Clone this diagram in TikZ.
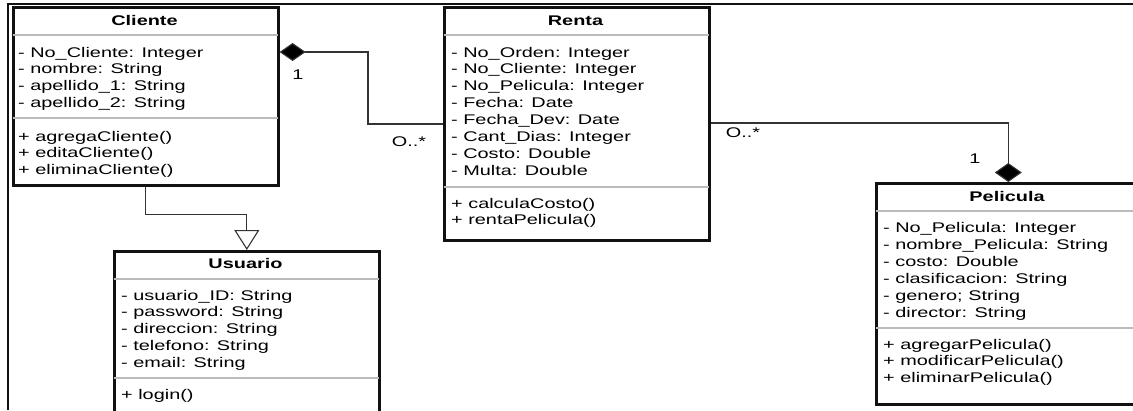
\documentclass[tikz,border=0pt]{standalone}
\usepackage{fontspec}
\setmainfont{Liberation Sans}[FakeStretch=1.42]
\usetikzlibrary{arrows.meta,positioning}
\definecolor{Borde}{HTML}{111111}
\definecolor{Separador}{HTML}{BBBBBB}
\definecolor{Linea}{HTML}{333333}

\begin{document}
\begin{tikzpicture}[
  x=1pt,y=-1pt,
  font=\fontsize{14}{16.8}\selectfont,
  clase/.style={draw=Borde,line width=2.6pt,minimum width=265pt,inner sep=0pt,anchor=north west,fill=white},
  titulo/.style={anchor=base,font=\fontsize{14}{16.8}\selectfont\bfseries},
  campo/.style={anchor=base west,inner sep=0pt},
  sep/.style={draw=Separador,line width=1.2pt,shorten <=1.3pt,shorten >=1.3pt},
  conector/.style={draw=Linea,line width=1.1pt},
  mult/.style={inner sep=0pt}
]
\clip (0,0) rectangle (1133,410);
\draw[Borde,line width=1.6pt] (8,410) -- (8,4) -- (1133,4);

% clases
\node[clase,minimum height=178pt] (cliente) at (12,6) {};
\node[clase,minimum height=233pt] (renta) at (443,6) {};
\node[clase,minimum height=221pt,minimum width=264pt] (pelicula) at (875,182) {};
\node[clase,minimum height=190pt] (usuario) at (113,250) {};

\foreach \c/\a/\b in {cliente/29/112,renta/29/181,pelicula/29/146,usuario/29/128}{
  \draw[sep] ([yshift=-\a pt]\c.north west) -- ([yshift=-\a pt]\c.north east);
  \draw[sep] ([yshift=-\b pt]\c.north west) -- ([yshift=-\b pt]\c.north east);
}

\node[titulo] (clienteT) at (144.5,25) {Cliente};
\node[titulo] (rentaT) at (575.5,25) {Renta};
\node[titulo] (peliculaT) at (1007,201) {Pelicula};
\node[titulo] (usuarioT) at (245.5,268) {Usuario};

% Cliente
\foreach \t [count=\i from 0] in {- No\_Cliente: Integer,- nombre: String,- apellido\_1: String,- apellido\_2: String}
  \node[campo] at (18,{57+16.7*\i}) {\t};
\foreach \t [count=\i from 0] in {+ agregaCliente(),+ editaCliente(),+ eliminaCliente()}
  \node[campo] at (18,{141+16.7*\i}) {\t};

% Renta
\foreach \t [count=\i from 0] in {- No\_Orden: Integer,- No\_Cliente: Integer,- No\_Pelicula: Integer,- Fecha: Date,- Fecha\_Dev: Date,- Cant\_Dias: Integer,- Costo: Double,- Multa: Double}
  \node[campo] at (451,{57+16.86*\i}) {\t};
\foreach \t [count=\i from 0] in {+ calculaCosto(),+ rentaPelicula()}
  \node[campo] at (451,{208+16.9*\i}) {\t};

% Pelicula
\foreach \t [count=\i from 0] in {- No\_Pelicula: Integer,- nombre\_Pelicula: String,- costo: Double,- clasificacion: String,- genero; String,- director: String}
  \node[campo] at (883,{232+17*\i}) {\t};
\foreach \t [count=\i from 0] in {+ agregarPelicula(),+ modificarPelicula(),+ eliminarPelicula()}
  \node[campo] at (883,{349+16.7*\i}) {\t};

% Usuario
\foreach \t [count=\i from 0] in {- usuario\_ID: String,- password: String,- direccion: String,- telefono: String,- email: String}
  \node[campo] at (121,{300+16.75*\i}) {\t};
\node[campo] at (121,399) {+ login()};

% relaciones
\draw[conector,-{Diamond[length=26pt,width=18pt,fill=black]}]
  ([yshift=-118pt]renta.north west) -- ++(-75,0) |- ([yshift=-46pt]cliente.north east);
\draw[conector,-{Diamond[length=19pt,width=27pt,fill=black]}]
  ([yshift=-117pt]renta.north east) -| (pelicula.north);
\draw[conector,-{Triangle[length=20pt,width=25pt,fill=white]}]
  (cliente.south) -- ++(0,28) -| (usuario.north);

\node[mult] (mClien) at (298,75) {1};
\node[mult] (mRenta1) at (409,142) {O..*};
\node[mult] (mRenta2) at (743,133) {O..*};
\node[mult] (mPeli) at (975,159) {1};
\end{tikzpicture}
\end{document}
